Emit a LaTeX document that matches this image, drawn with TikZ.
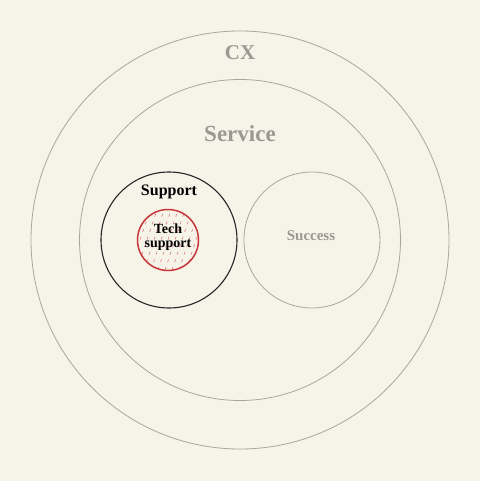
\documentclass[tikz,border=0pt]{standalone}
\usepackage{fontspec}
\setmainfont{Liberation Serif}
\usetikzlibrary{positioning}
\definecolor{paper}{HTML}{F6F3E9}
\definecolor{ringgray}{HTML}{A7A79F}
\definecolor{mutegray}{HTML}{9A9A92}
\definecolor{techred}{HTML}{C8373B}
\tikzset{
	x=1pt, y=-1pt, % one unit is one pixel of the picture, y runs downwards
	ring/.style={circle, draw=ringgray, line width=0.8pt, inner sep=0pt, minimum size=#1}, % the grey circles
	team/.style={circle, draw=black!85, line width=1.1pt, inner sep=0pt, minimum size=#1}, % the support circle
	hot/.style={circle, draw=techred, line width=1.5pt, inner sep=0pt, minimum size=#1}, % the highlighted circle
	hatch/.style={techred!70, line width=0.6pt, dash pattern=on 3pt off 5pt}, % red strokes inside tech support
	mute/.style={text=mutegray, font=\bfseries\fontsize{#1}{#1}\selectfont}, % grey labels
	dark/.style={text=black, font=\bfseries\fontsize{#1}{#1}\selectfont}, % black labels
}

\begin{document}
\begin{tikzpicture}
	\fill[paper] (0,0) rectangle (480,481);
	\useasboundingbox (0,0) rectangle (480,481);
			\node[ring=418pt] (cx) at (240,240) {};
			\node[ring=321pt] (service) at (240,240) {};
			\node[team=136pt] (support) at (169,240) {};
			\node[ring=136pt, right=6pt of support] (success) {};
	% hatching of the tech support circle
	\begin{scope}
		\clip (168,240) circle (30.5);
		\foreach \k in {-70,-63,...,70}
			\draw[hatch] (\k+153,285) -- (\k+183,195);
	\end{scope}
			\node[hot=61pt] (tech) at (168,240) {};
	% labels
			\node[mute=21] (cxlabel) at (240,53) {CX};
			\node[mute=23] (servicelabel) at (240,134) {Service};
			\node[dark=16] (supportlabel) at (169,192) {Support};
			\node[mute=15] (successlabel) at (311,236) {Success};
			\node[dark=14, align=center] (techlabel) at (168,237) {Tech\\support};
\end{tikzpicture}
\end{document}
